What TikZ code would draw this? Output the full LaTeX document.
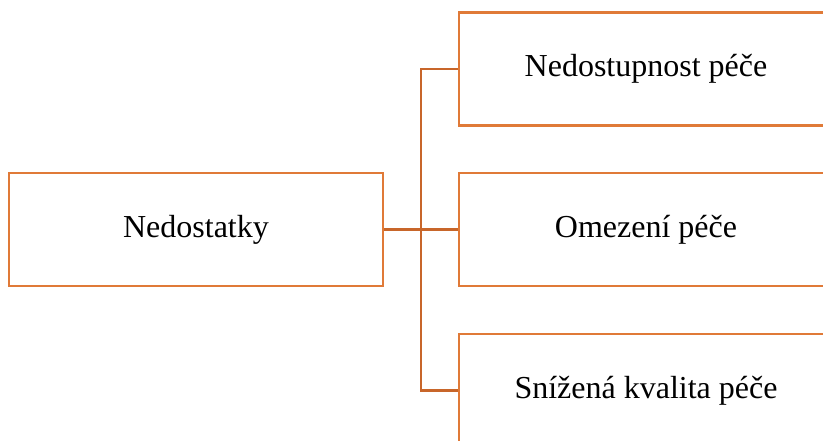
\documentclass[tikz,border=0pt]{standalone}
\usepackage{fontspec}
\setmainfont{Liberation Serif}
\usetikzlibrary{positioning}
\definecolor{boxorange}{HTML}{E07A38}
\definecolor{lineorange}{HTML}{C8662A}

\begin{document}
\begin{tikzpicture}
    [x=1pt, y=-1pt,
    item/.style={draw=boxorange, line width=2.6pt, fill=white, minimum width=374pt, minimum height=113pt, inner sep=0pt, font=\fontsize{32}{38}\selectfont},
    link/.style={draw=lineorange, line width=2.6pt}]
     \useasboundingbox (0,0) rectangle (823,441);
     \clip (0,0) rectangle (823,441);
     \node[item] (nedostatky) at (196, 229.5)  {Nedostatky};
     \node[item] (nedostupnost) at (646, 69)   {Nedostupnost péče};
     \node[item] (omezeni) at (646, 229.5)     {Omezení péče};
     \node[item] (kvalita) at (646, 390.5)     {Snížená kvalita péče};
     \coordinate (spine) at (421, 229.5);
     \draw[link] (nedostatky.east) -- (omezeni.west);
     \draw[link] (nedostupnost.west) -| (spine) |- (kvalita.west);
\end{tikzpicture}
\end{document}
